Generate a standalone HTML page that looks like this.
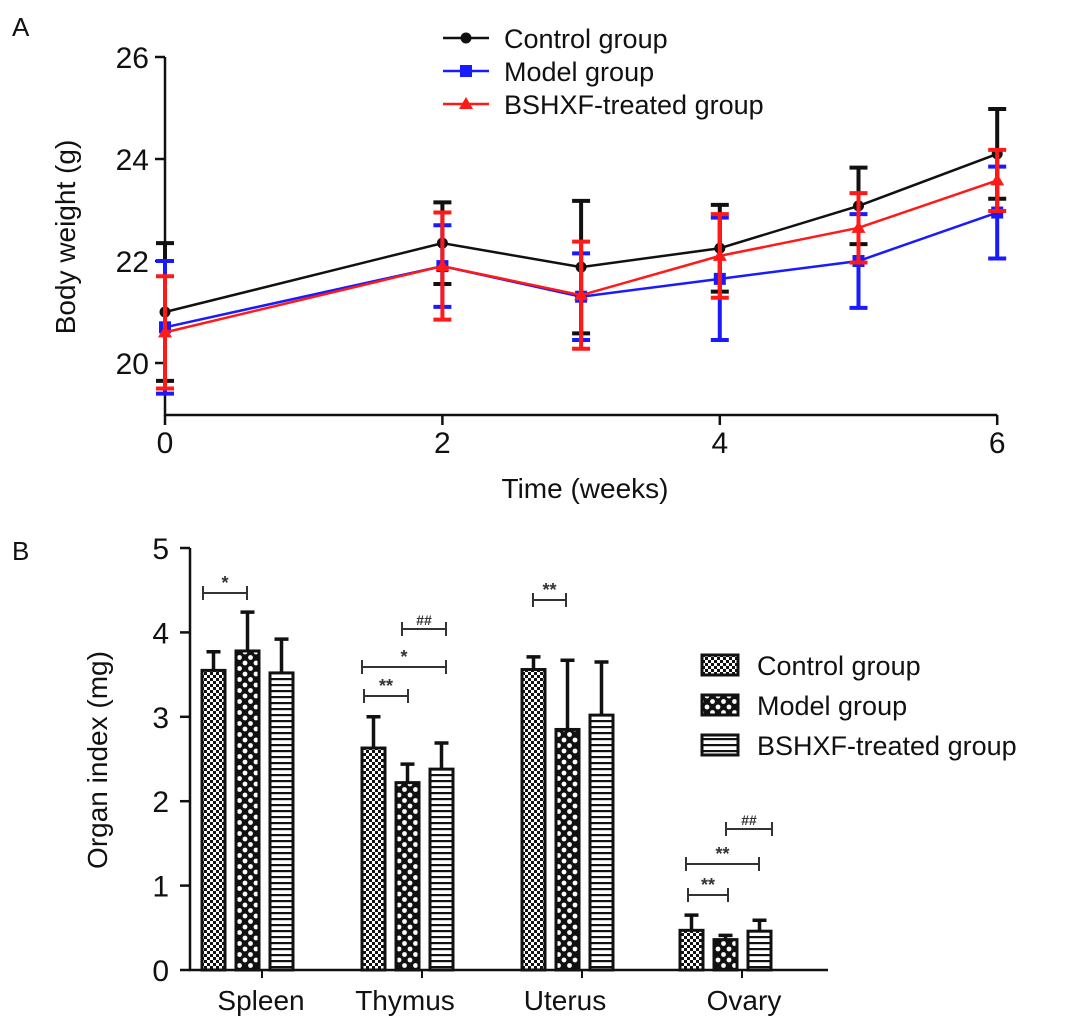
<!DOCTYPE html>
<html><head><meta charset="utf-8"><style>
html,body{margin:0;padding:0;background:#fff}
svg{display:block;font-family:"Liberation Sans",Arial,sans-serif}
</style></head><body>
<svg id="fig" width="1087" height="1033" viewBox="0 0 1087 1033" xmlns="http://www.w3.org/2000/svg">
<defs>
<pattern id="pCtrl" width="6" height="6" patternUnits="userSpaceOnUse">
<rect width="6" height="6" fill="#fff"/><rect width="3" height="3" fill="#111"/><rect x="3" y="3" width="3" height="3" fill="#111"/>
</pattern>
<pattern id="pModel" width="11" height="11" patternUnits="userSpaceOnUse">
<rect width="11" height="11" fill="#111"/><circle cx="3" cy="3" r="2.4" fill="#fff"/><circle cx="8.5" cy="8.5" r="2.4" fill="#fff"/>
</pattern>
<pattern id="pBsh" width="6" height="6" patternUnits="userSpaceOnUse">
<rect width="6" height="6" fill="#fff"/><rect y="0" width="6" height="2.2" fill="#111"/>
</pattern>
</defs>
<text x="12" y="36" font-size="26" fill="#111">A</text>
<text x="12" y="560" font-size="26" fill="#111">B</text>
<g id="gA"></g>
<g id="gB"></g>
</svg>
<script>
// Panel A data
const weeks = [0, 2, 3, 4, 5, 6];
const ctrlMean = [21.0, 22.35, 21.88, 22.25, 23.08, 24.1];
const ctrlErr  = [1.35, 0.8, 1.3, 0.85, 0.75, 0.88];
const modelMean = [20.7, 21.9, 21.3, 21.65, 22.0, 22.95];
const modelErr  = [1.3, 0.8, 0.85, 1.2, 0.92, 0.9];
const bshMean = [20.6, 21.9, 21.33, 22.1, 22.65, 23.58];
const bshErr  = [1.1, 1.05, 1.05, 0.82, 0.68, 0.6];
const yTicksA = [20, 22, 24, 26];
const xTicksA = [0, 2, 4, 6];
// Panel B data
const organs = ["Spleen", "Thymus", "Uterus", "Ovary"];
const ctrlIdx = [3.55, 2.63, 3.56, 0.47];
const ctrlIdxErr = [0.22, 0.37, 0.15, 0.18];
const modelIdx = [3.78, 2.22, 2.85, 0.36];
const modelIdxErr = [0.46, 0.22, 0.82, 0.05];
const bshIdx = [3.52, 2.38, 3.02, 0.46];
const bshIdxErr = [0.4, 0.31, 0.63, 0.13];
const yTicksB = [0, 1, 2, 3, 4, 5];

const NS = "http://www.w3.org/2000/svg";
function mk(parent, tag, attrs, text){
  const e = document.createElementNS(NS, tag);
  for (const k in attrs) e.setAttribute(k, attrs[k]);
  if (text !== undefined) e.textContent = text;
  parent.appendChild(e); return e;
}
// ---- Panel A ----
const gA = document.getElementById('gA');
const xA = w => 165 + w * 138.7;
const yA = v => 363 - (v - 20) * 51.0;
let ax = mk(gA, 'path', {d:`M165,${yA(26)} V415 H${xA(6)}`, stroke:'#111','stroke-width':2.5, fill:'none'});


yTicksA.forEach(t=>{
  const l = mk(gA,'line',{x1:155,x2:165,y1:yA(t),y2:yA(t),stroke:'#111','stroke-width':2.5});
   
  const tx = mk(gA,'text',{x:149,y:yA(t)+11,'font-size':30,'text-anchor':'end',fill:'#111'},String(t));
   
});
xTicksA.forEach(t=>{
  const l = mk(gA,'line',{x1:xA(t),x2:xA(t),y1:415,y2:425,stroke:'#111','stroke-width':2.5});
   
  const tx = mk(gA,'text',{x:xA(t),y:453,'font-size':30,'text-anchor':'middle',fill:'#111'},String(t));
   
});
let xt = mk(gA,'text',{x:585,y:498,'font-size':28,'text-anchor':'middle',fill:'#111'},'Time (weeks)');
 
let yt = mk(gA,'text',{x:0,y:0,'font-size':28,'text-anchor':'middle',fill:'#111',transform:'translate(75,237) rotate(-90)'},'Body weight (g)');
 

const seriesA = [
  {m:ctrlMean,e:ctrlErr,c:'#111',mk:'circle',name:'control'},
  {m:modelMean,e:modelErr,c:'#1a1aff',mk:'square',name:'model'},
  {m:bshMean,e:bshErr,c:'#ff1a1a',mk:'triangle',name:'bshxf'}
];
function marker(g,type,x,y,c,name){
  let e;
  if(type==='circle') e = mk(g,'circle',{cx:x,cy:y,r:5.5,fill:c});
  else if(type==='square') e = mk(g,'rect',{x:x-6,y:y-6,width:12,height:12,fill:c});
  else e = mk(g,'path',{d:`M${x},${y-7} L${x+7},${y+5} L${x-7},${y+5}Z`,fill:c});
  
  
}
seriesA.forEach(s=>{
  const g = mk(gA,'g',{});
  
  
  weeks.forEach((w,i)=>{
    const x=xA(w), top=yA(s.m[i]+s.e[i]), bot=yA(s.m[i]-s.e[i]);
    const eb = mk(g,'path',{d:`M${x},${top} V${bot} M${x-9},${top} H${x+9} M${x-9},${bot} H${x+9}`,stroke:s.c,'stroke-width':4,fill:'none'});
    
    
  });
  const ln = mk(g,'polyline',{points:weeks.map((w,i)=>xA(w)+','+yA(s.m[i])).join(' '),stroke:s.c,'stroke-width':2.5,fill:'none'});
  
  
  weeks.forEach((w,i)=>marker(g,s.mk,xA(w),yA(s.m[i]),s.c,'point-'+s.name));
});
const legA = [['Control group',0],['Model group',1],['BSHXF-treated group',2]];
legA.forEach(([t,i])=>{
  const y = 38 + i*33, s = seriesA[i];
  const g = mk(gA,'g',{});
  
  
  mk(g,'line',{x1:443,x2:489,y1:y,y2:y,stroke:s.c,'stroke-width':2.5});
  marker(g,s.mk,466,y,s.c,'legend-marker');
  mk(g,'text',{x:504,y:y+10,'font-size':27,fill:'#111'},t);
});

// ---- Panel B ----
const gB = document.getElementById('gB');
const yB = v => 970 - v * 84.4;
const groupLeft = [202, 362, 522, 680];
const labelX = [261, 405, 565, 744];
const tickX = [262, 422, 582, 742];
let axB = mk(gB,'path',{d:`M190,${yB(5)} V970 H828`,stroke:'#111','stroke-width':2.5,fill:'none'});


yTicksB.forEach(t=>{
  const l = mk(gB,'line',{x1:180,x2:190,y1:yB(t),y2:yB(t),stroke:'#111','stroke-width':2.5});
   
  const tx = mk(gB,'text',{x:169,y:yB(t)+11,'font-size':30,'text-anchor':'end',fill:'#111'},String(t));
   
});
let ytb = mk(gB,'text',{x:0,y:0,'font-size':28,'text-anchor':'middle',fill:'#111',transform:'translate(107,760) rotate(-90)'},'Organ index (mg)');
 
const seriesB = [
  {m:ctrlIdx,e:ctrlIdxErr,p:'url(#pCtrl)',name:'control'},
  {m:modelIdx,e:modelIdxErr,p:'url(#pModel)',name:'model'},
  {m:bshIdx,e:bshIdxErr,p:'url(#pBsh)',name:'bshxf'}
];
organs.forEach((o,gi)=>{
  const tk = mk(gB,'line',{x1:tickX[gi],x2:tickX[gi],y1:970,y2:978,stroke:'#111','stroke-width':2});
   
  const tx = mk(gB,'text',{x:labelX[gi],y:1010,'font-size':28,'text-anchor':'middle',fill:'#111'},o);
   
  seriesB.forEach((s,si)=>{
    const x = groupLeft[gi] + si*34, w = 23, cx = x + w/2;
    const top = yB(s.m[gi]), et = yB(s.m[gi]+s.e[gi]);
    const eb = mk(gB,'path',{d:`M${cx},${top} V${et} M${cx-7},${et} H${cx+7}`,stroke:'#111','stroke-width':3.5,fill:'none'});
    
    
    const b = mk(gB,'rect',{x:x,y:top,width:w,height:970-top,fill:s.p,stroke:'#111','stroke-width':3});
    
    
  });
});
// significance brackets: [x1,x2,y,label]
const sigs = [[203,247,593,'*'],[402,446,629,'##'],[362,446,667,'*'],[364,408,696,'**'],[533,566,600,'**'],
  [726,772,829,'##'],[686,759,864,'**'],[688,728,895,'**']];
sigs.forEach(([a,b,y,t])=>{
  const g = mk(gB,'g',{});
  
  
  mk(g,'path',{d:`M${a},${y-7} V${y+7} M${a},${y} H${b} M${b},${y-7} V${y+7}`,stroke:'#333','stroke-width':2,fill:'none'});
  mk(g,'text',{x:(a+b)/2,y:y-4,'font-size':t[0]==='#'?14:18,'font-weight':'bold','text-anchor':'middle',fill:'#333'},t);
});
const legB = ['Control group','Model group','BSHXF-treated group'];
legB.forEach((t,i)=>{
  const y = 665 + i*40;
  const g = mk(gB,'g',{});
  
  
  mk(g,'rect',{x:702,y:y-10,width:36,height:20,fill:seriesB[i].p,stroke:'#111','stroke-width':3});
  mk(g,'text',{x:757,y:y+10,'font-size':27,fill:'#111'},t);
});
</script>
</body></html>
